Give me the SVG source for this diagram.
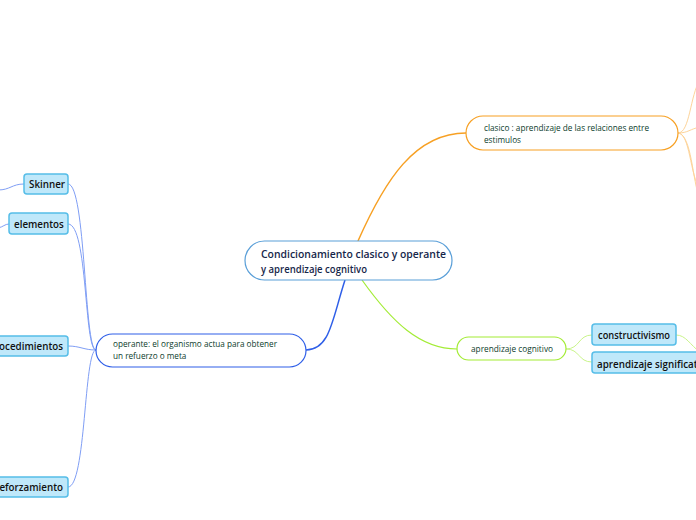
<svg xmlns="http://www.w3.org/2000/svg" width="696" height="520" viewBox="0 0 696 520">
<style>
.t{font-family:"Open Sans","Noto Sans","Liberation Sans",sans-serif;}
.main{font-size:10.8px;fill:#16264a;font-weight:600;}
.sub{font-size:8.2px;fill:#0c3d2c;font-weight:500;}
.leaf{font-size:9.8px;fill:#111;font-weight:600;}
.lbox{fill:#bfe8fa;stroke:#56bde8;stroke-width:1.5;}
.c{fill:none;}
</style>
<rect width="696" height="520" fill="#fff"/>
<g id="connectors">
  <path class="c" d="M358,241 C385,180 415,133 466,133" stroke="#f7a023" stroke-width="1.5"/>
  <path class="c" d="M345,280 C332,320 330,350 306,350" stroke="#2f5fe8" stroke-width="1.5"/>
  <path class="c" d="M362,280 C392,322 420,349 457,349" stroke="#a3ec35" stroke-width="1.2"/>
  <path class="c" d="M678,133 C690,133 690,95 700,80" stroke="#fdd49a" stroke-width="1"/>
  <path class="c" d="M678,133 C688,133 690,129 700,127" stroke="#fdd49a" stroke-width="1"/>
  <path class="c" d="M678,133 C690,133 690,175 700,190" stroke="#fdd49a" stroke-width="1"/>
  <path class="c" d="M678,133 C692,135 692,180 700,200" stroke="#fdd49a" stroke-width="1"/>
  <path class="c" d="M566,349 C580,349 578,335 592,335" stroke="#c9f48a" stroke-width="1"/>
  <path class="c" d="M566,349 C580,349 578,362 592,362" stroke="#c9f48a" stroke-width="1"/>
  <path class="c" d="M676,335 C686,335 690,345 700,352" stroke="#c9f48a" stroke-width="1"/>
  <path class="c" d="M96,350 C84,350 86,184 68,184" stroke="#7f9ef5" stroke-width="1"/>
  <path class="c" d="M96,350 C84,350 88,224 68,224" stroke="#7f9ef5" stroke-width="1"/>
  <path class="c" d="M96,350 C84,350 80,346 68,346" stroke="#7f9ef5" stroke-width="1"/>
  <path class="c" d="M96,350 C84,350 86,487 68,487" stroke="#7f9ef5" stroke-width="1"/>
  <path class="c" d="M24,184 C12,184 10,190 -2,190" stroke="#7f9ef5" stroke-width="1"/>
  <path class="c" d="M9,224 C5,224 3,227 -2,228" stroke="#7f9ef5" stroke-width="1"/>
</g>
<g id="central">
  <rect x="245" y="241" width="207" height="39" rx="19.5" fill="#fff" stroke="#5a9fd8" stroke-width="1.2"/>
  <text class="t main" x="261" y="258" textLength="185" lengthAdjust="spacingAndGlyphs">Condicionamiento clasico y operante</text>
  <text class="t main" x="261" y="273" textLength="106" lengthAdjust="spacingAndGlyphs">y aprendizaje cognitivo</text>
</g>
<g id="clasico">
  <rect x="466" y="116" width="212" height="34" rx="17" fill="#fff" stroke="#f7a023" stroke-width="1.2"/>
  <text class="t sub" x="484" y="131" textLength="165" lengthAdjust="spacingAndGlyphs">clasico : aprendizaje de las relaciones entre</text>
  <text class="t sub" x="484" y="143">estimulos</text>
</g>
<g id="operante">
  <rect x="96" y="334" width="210" height="33" rx="16.5" fill="#fff" stroke="#2f5fe8" stroke-width="1.2"/>
  <text class="t sub" x="113" y="347" textLength="164" lengthAdjust="spacingAndGlyphs">operante: el organismo actua para obtener</text>
  <text class="t sub" x="113" y="359">un refuerzo o meta</text>
</g>
<g id="cognitivo">
  <rect x="457" y="337" width="109" height="23" rx="11.5" fill="#fff" stroke="#a3ec35" stroke-width="1.2"/>
  <text class="t sub" x="471" y="352" textLength="82" lengthAdjust="spacingAndGlyphs">aprendizaje cognitivo</text>
</g>
<g id="constructivismo">
  <rect class="lbox" x="592" y="324" width="84" height="21" rx="3"/>
  <text class="t leaf" x="598" y="339" textLength="72" lengthAdjust="spacingAndGlyphs">constructivismo</text>
</g>
<g id="significativo">
  <rect class="lbox" x="592" y="352" width="120" height="21" rx="3"/>
  <text class="t leaf" x="597" y="368">aprendizaje significativo</text>
</g>
<g id="skinner">
  <rect class="lbox" x="24" y="174" width="44" height="20" rx="3"/>
  <text class="t leaf" x="29" y="188">Skinner</text>
</g>
<g id="elementos">
  <rect class="lbox" x="9" y="213" width="59" height="21" rx="3"/>
  <text class="t leaf" x="14" y="228">elementos</text>
</g>
<g id="procedimientos">
  <rect class="lbox" x="-20" y="336" width="88" height="20" rx="3"/>
  <text class="t leaf" x="63" y="350" text-anchor="end">procedimientos</text>
</g>
<g id="reforzamiento">
  <rect class="lbox" x="-20" y="477" width="88" height="20" rx="3"/>
  <text class="t leaf" x="63" y="491" text-anchor="end">reforzamiento</text>
</g>
</svg>
